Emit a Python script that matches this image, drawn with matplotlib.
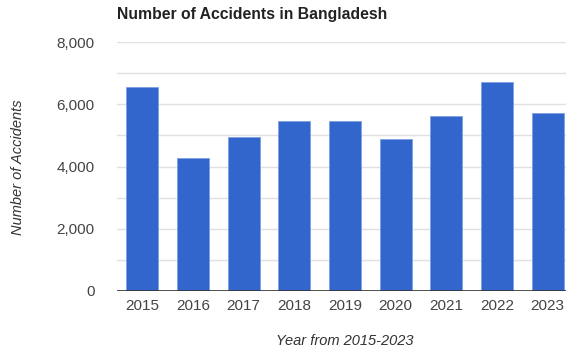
import matplotlib.pyplot as plt

plt.rcParams['font.family'] = ['Liberation Sans', 'DejaVu Sans']

years = ['2015', '2016', '2017', '2018', '2019', '2020', '2021', '2022', '2023']
accidents = [6550, 4270, 4960, 5470, 5470, 4890, 5610, 6710, 5710]
yticks = [0, 2000, 4000, 6000, 8000]

W, H = 566, 351
fig = plt.figure(figsize=(W / 100, H / 100), dpi=100)
# axes in pixel terms, right edge runs slightly past the figure
ax = fig.add_axes([117 / W, (H - 291) / H, (573 - 117) / W, (291 - 42) / H])

x = range(len(years))
ax.bar(x, accidents, width=0.63, color='#3366cc', edgecolor='#7f9fe0', linewidth=0.6, zorder=3)

ax.set_xlim(-0.5, len(years) - 0.5)
ax.set_ylim(0, 8000)
ax.set_yticks(yticks)
ax.set_yticklabels([f'{v:,}' for v in yticks])
ax.set_yticks([1000, 3000, 5000, 7000], minor=True)
ax.set_xticks(list(x))
ax.set_xticklabels(years)

ax.grid(axis='y', which='both', color='#e0e0e0', linewidth=1, zorder=0)
ax.axhline(0, color='#333333', linewidth=1.2, zorder=4)
for s in ax.spines.values():
    s.set_visible(False)
ax.tick_params(axis='both', which='both', length=0, labelsize=11, colors='#444444')
ax.tick_params(axis='y', pad=16)
ax.tick_params(axis='x', pad=6)

fig.text(117 / W, 1 - 14 / H, 'Number of Accidents in Bangladesh', fontsize=11.3,
         fontweight='bold', color='#222222', va='center', ha='left')
fig.text(345 / W, 1 - 341 / H, 'Year from 2015-2023', fontsize=10.5, style='italic',
         color='#333333', ha='center', va='center')
fig.text(18 / W, 1 - 167 / H, 'Number of Accidents', fontsize=10.5, style='italic',
         color='#333333', ha='center', va='center', rotation=90)

fig.savefig('out.png', dpi=100)
